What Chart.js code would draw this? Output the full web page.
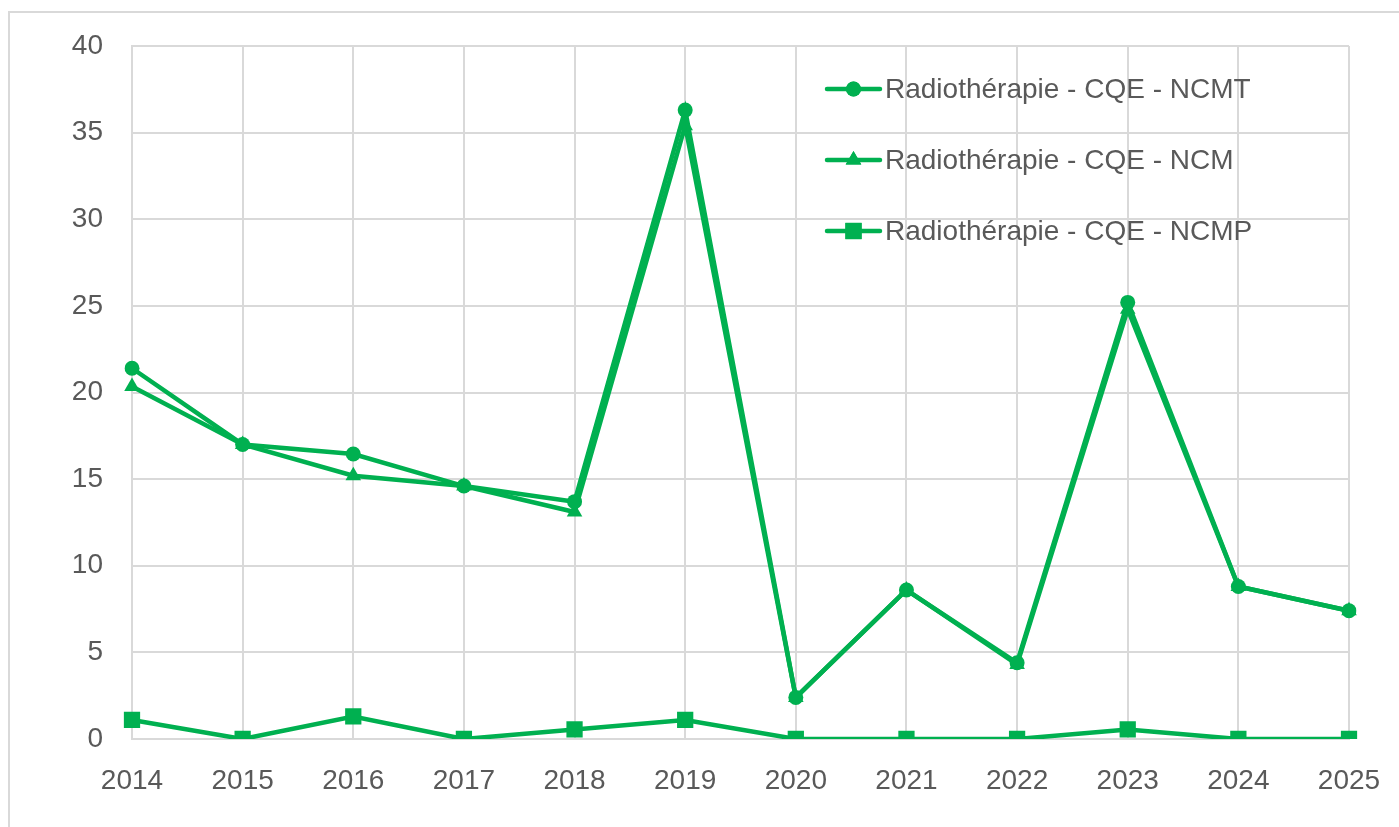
<!DOCTYPE html>
<html lang="fr">
<head>
  <meta charset="UTF-8">
  <title>Radiothérapie - CQE</title>
  <script src="https://cdn.jsdelivr.net/npm/chart.js"></script>
  <style>
    html, body { margin: 0; padding: 0; background: #fff; overflow: hidden; }
    #wrap { position: relative; width: 1399px; height: 827px; }
    #frame { position: absolute; left: 8px; top: 11px; width: 1500px; height: 900px; border: 2px solid #d9d9d9; box-sizing: border-box; }
    canvas { position: absolute; left: 0; top: 0; }
  </style>
</head>
<body>
  <div id="wrap">
    <div id="frame"></div>
    <canvas id="chart" width="1399" height="827"></canvas>
  </div>

  <script>
    // données
    const years = ['2014', '2015', '2016', '2017', '2018', '2019', '2020', '2021', '2022', '2023', '2024', '2025'];
    const ncmt = [21.4, 17.0, 16.45, 14.6, 13.7, 36.3, 2.4, 8.6, 4.4, 25.2, 8.8, 7.4];
    const ncm  = [20.35, 17.0, 15.2, 14.6, 13.1, 35.4, 2.4, 8.6, 4.3, 24.8, 8.8, 7.4];
    const ncmp = [1.1, 0, 1.3, 0, 0.55, 1.1, 0, 0, 0, 0.55, 0, 0];
    const yTicks = [0, 5, 10, 15, 20, 25, 30, 35, 40];

    const green = '#00B050';
    const textColor = '#595959';
    const gridColor = '#d9d9d9';
    const fontFamily = '"Liberation Sans", Arial, sans-serif';

    // légende dessinée dans la zone du graphique
    const insideLegend = {
      id: 'insideLegend',
      afterDraw(chart) {
        const ctx = chart.ctx;
        const x0 = 827, x1 = 880, rows = [89, 160, 231];
        ctx.save();
        chart.data.datasets.forEach((ds, i) => {
          const y = rows[i];
          ctx.strokeStyle = ds.borderColor;
          ctx.lineWidth = ds.borderWidth;
          ctx.lineCap = 'round';
          ctx.beginPath();
          ctx.moveTo(x0, y);
          ctx.lineTo(x1, y);
          ctx.stroke();
          ctx.fillStyle = ds.backgroundColor;
          Chart.helpers.drawPoint(ctx, {
            pointStyle: ds.pointStyle, radius: ds.pointRadius, borderWidth: 0, rotation: 0
          }, (x0 + x1) / 2, y);
          ctx.fill();
          ctx.fillStyle = textColor;
          ctx.font = '28px ' + fontFamily;
          ctx.textBaseline = 'middle';
          ctx.textAlign = 'left';
          ctx.fillText(ds.label, 885, y + 1);
        });
        ctx.restore();
      }
    };

    const mkSet = (label, data, style, r) => ({
      label: label,
      data: data,
      borderColor: green,
      backgroundColor: green,
      borderWidth: 4.5,
      pointStyle: style,
      pointRadius: r,
      pointHoverRadius: r,
      pointBorderWidth: 0,
      tension: 0,
      fill: false
    });

    new Chart(document.getElementById('chart'), {
      type: 'line',
      data: {
        labels: years,
        datasets: [
          mkSet('Radiothérapie - CQE - NCMT', ncmt, 'circle', 7.5),
          mkSet('Radiothérapie - CQE - NCM', ncm, 'triangle', 9),
          mkSet('Radiothérapie - CQE - NCMP', ncmp, 'rect', 11.5)
        ]
      },
      options: {
        responsive: false,
        animation: false,
        layout: { padding: { top: 46, right: 50, left: 0, bottom: 0 } },
        plugins: {
          legend: { display: false },
          tooltip: { enabled: false }
        },
        scales: {
          x: {
            offset: false,
            grid: { color: gridColor, lineWidth: 2, drawTicks: false },
            border: { color: gridColor, width: 2 },
            ticks: { color: textColor, font: { family: fontFamily, size: 28 }, padding: 25, maxRotation: 0, autoSkip: false },
            afterFit(scale) {
              scale.height = 88;
              scale.paddingLeft = 0;
              scale.paddingRight = 0;
            }
          },
          y: {
            min: 0,
            max: 40,
            grid: { color: gridColor, lineWidth: 2, drawTicks: false },
            border: { color: gridColor, width: 2 },
            afterBuildTicks(scale) { scale.ticks = yTicks.map(v => ({ value: v })); },
            ticks: { color: textColor, font: { family: fontFamily, size: 28 }, padding: 29 },
            afterFit(scale) {
              scale.width = 132;
              scale.paddingTop = 0;
              scale.paddingBottom = 0;
            }
          }
        }
      },
      plugins: [insideLegend]
    });
  </script>
</body>
</html>
